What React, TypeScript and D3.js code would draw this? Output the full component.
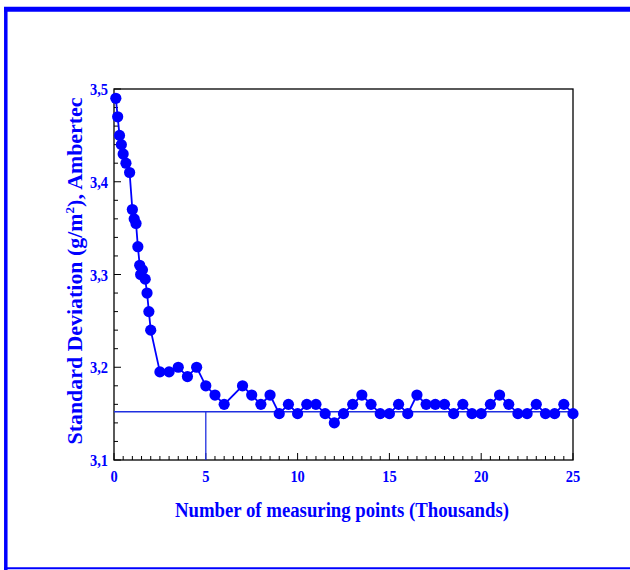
import React from "react";
import * as d3 from "d3";

// thousands of measuring points
const points = [
  0.1, 0.2, 0.3, 0.4, 0.5, 0.65, 0.85, 1.0, 1.1, 1.2, 1.3, 1.4, 1.45, 1.55, 1.7, 1.8, 1.9, 2.0,
  2.5, 3.0, 3.5, 4.0, 4.5, 5.0, 5.5, 6.0, 7.0, 7.5, 8.0, 8.5, 9.0, 9.5, 10.0, 10.5, 11.0, 11.5,
  12.0, 12.5, 13.0, 13.5, 14.0, 14.5, 15.0, 15.5, 16.0, 16.5, 17.0, 17.5, 18.0, 18.5, 19.0, 19.5,
  20.0, 20.5, 21.0, 21.5, 22.0, 22.5, 23.0, 23.5, 24.0, 24.5, 25.0,
];
// standard deviation g/m2
const stdDev = [
  3.49, 3.47, 3.45, 3.44, 3.43, 3.42, 3.41, 3.37, 3.36, 3.355, 3.33, 3.31, 3.3, 3.305, 3.295, 3.28, 3.26, 3.24,
  3.195, 3.195, 3.2, 3.19, 3.2, 3.18, 3.17, 3.16, 3.18, 3.17, 3.16, 3.17, 3.15, 3.16, 3.15, 3.16, 3.16, 3.15,
  3.14, 3.15, 3.16, 3.17, 3.16, 3.15, 3.15, 3.16, 3.15, 3.17, 3.16, 3.16, 3.16, 3.15, 3.16, 3.15,
  3.15, 3.16, 3.17, 3.16, 3.15, 3.15, 3.16, 3.15, 3.15, 3.16, 3.15,
];
const xTicks = [0, 5, 10, 15, 20, 25];
const yTicks = [3.1, 3.2, 3.3, 3.4, 3.5];
const refLevel = 3.152;
const refX = 5;

const W = 630;
const H = 570;
const plot = { left: 114, right: 573, top: 89, bottom: 460 };
const blue = "#0000ff";
const font = "'Liberation Serif', 'Times New Roman', serif";

export default function App() {
  const x = d3.scaleLinear().domain([0, 25]).range([plot.left, plot.right]);
  const y = d3.scaleLinear().domain([3.1, 3.5]).range([plot.bottom, plot.top]);

  const data = points.map((p, i) => [p, stdDev[i]] as [number, number]);
  const line = d3
    .line<[number, number]>()
    .x((d) => x(d[0]))
    .y((d) => y(d[1]));

  const xMinor = d3.range(0, 25.001, 0.5);
  const yMinor = d3.range(3.1, 3.5001, 0.02);

  return (
    <svg
      width={W}
      height={H}
      style={{ position: "absolute", left: 0, top: 0 }}
      fontFamily={font}
    >
      <rect width={W} height={H} fill="#fff" />
      {/* outer frame */}
      <line x1={4} x2={W} y1={9.2} y2={9.2} stroke={blue} strokeWidth={5} />
      <line x1={5.8} x2={5.8} y1={7} y2={H} stroke={blue} strokeWidth={3.5} />
      <line x1={4} x2={W} y1={568.3} y2={568.3} stroke={blue} strokeWidth={2} />

      {/* plot box */}
      <rect
        x={plot.left}
        y={plot.top}
        width={plot.right - plot.left}
        height={plot.bottom - plot.top}
        fill="none"
        stroke="#000"
        strokeWidth={1.3}
      />

      {/* ticks */}
      {xMinor.map((t) => {
        const major = Math.abs(t % 5) < 1e-6;
        return (
          <line
            key={"xm" + t}
            x1={x(t)}
            x2={x(t)}
            y1={plot.bottom}
            y2={plot.bottom - (major ? 7 : 4)}
            stroke="#000"
            strokeWidth={1}
          />
        );
      })}
      {yMinor.map((t) => {
        const major = Math.abs(Math.round(t * 10) - t * 10) < 1e-6;
        return (
          <line
            key={"ym" + t}
            x1={plot.left}
            x2={plot.left + (major ? 7 : 4)}
            y1={y(t)}
            y2={y(t)}
            stroke="#000"
            strokeWidth={1}
          />
        );
      })}

      {/* tick labels */}
      {xTicks.map((t) => (
        <text
          key={"xl" + t}
          transform={`translate(${x(t)}, 482) scale(0.85, 1)`}
          textAnchor="middle"
          fontSize={17}
          fontWeight="bold"
          fill={blue}
        >
          {t}
        </text>
      ))}
      {yTicks.map((t) => (
        <text
          key={"yl" + t}
          transform={`translate(108, ${y(t) + 6}) scale(0.85, 1)`}
          textAnchor="end"
          fontSize={17}
          fontWeight="bold"
          fill={blue}
        >
          {d3.format(".1f")(t).replace(".", ",")}
        </text>
      ))}

      {/* reference lines */}
      <line
        x1={plot.left}
        x2={plot.right}
        y1={y(refLevel)}
        y2={y(refLevel)}
        stroke="#1f2fe0"
        strokeWidth={1.3}
      />
      <line
        x1={x(refX)}
        x2={x(refX)}
        y1={y(refLevel)}
        y2={plot.bottom}
        stroke="#1f2fe0"
        strokeWidth={1.3}
      />

      {/* series */}
      <path d={line(data) ?? ""} fill="none" stroke={blue} strokeWidth={1.8} />
      {data.map((d, i) => (
        <circle key={i} cx={x(d[0])} cy={y(d[1])} r={5.6} fill={blue} />
      ))}

      {/* axis titles */}
      <text
        x={(175 + 509) / 2}
        y={517}
        textAnchor="middle"
        fontSize={20}
        fontWeight="bold"
        fill={blue}
        textLength={334}
        lengthAdjust="spacingAndGlyphs"
      >
        Number of measuring points (Thousands)
      </text>
      <text
        transform={`translate(82, 271) rotate(-90)`}
        textAnchor="middle"
        fontSize={20}
        fontWeight="bold"
        fill={blue}
        textLength={347}
        lengthAdjust="spacingAndGlyphs"
      >
        Standard Deviation (g/m
        <tspan fontSize={12} dy={-8}>
          2
        </tspan>
        <tspan dy={8}>), Ambertec</tspan>
      </text>
    </svg>
  );
}
